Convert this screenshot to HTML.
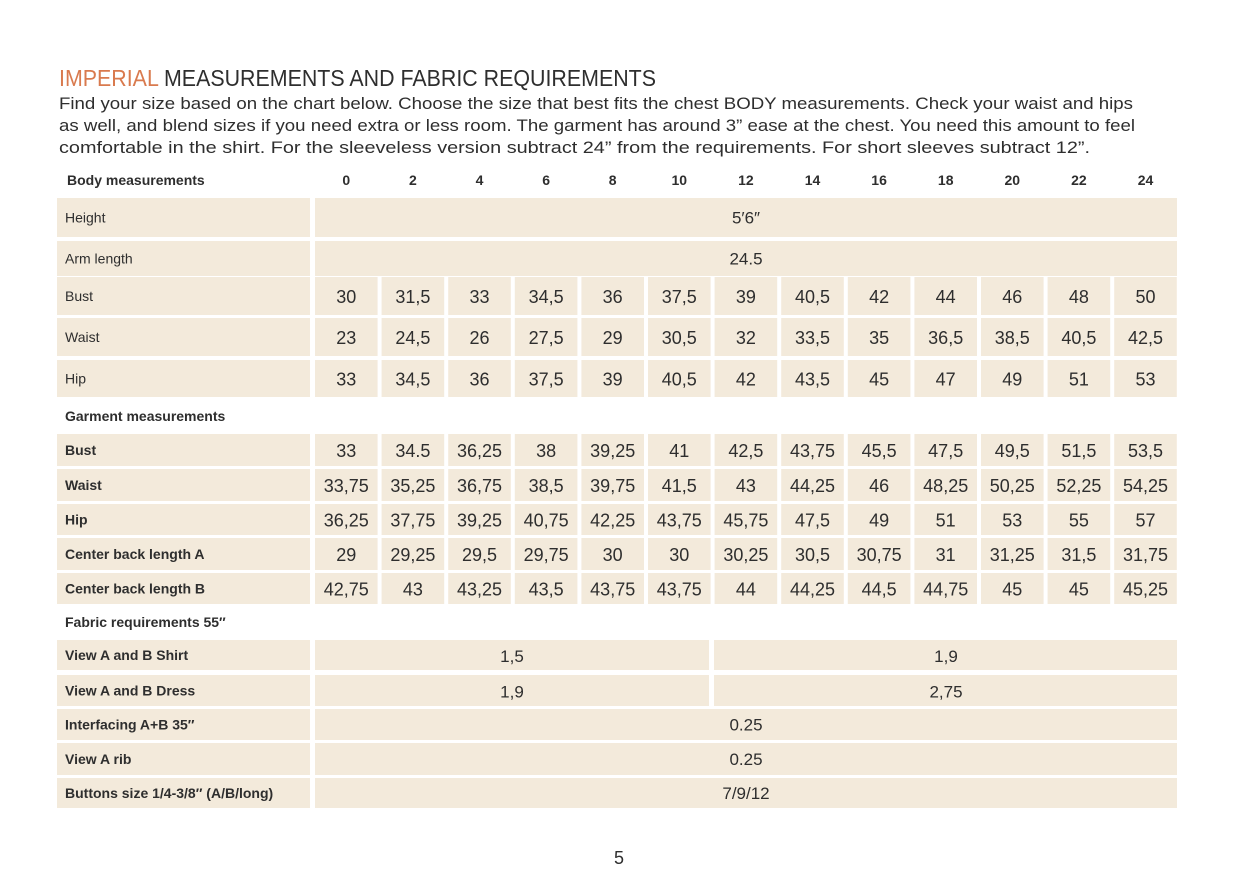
<!DOCTYPE html>
<html><head><meta charset="utf-8">
<style>
html,body{margin:0;padding:0;background:#fff;}
svg{display:block;}
text{font-family:"Liberation Sans",sans-serif;fill:#2e2e2e;}
</style></head>
<body>
<svg id="s" width="1240" height="874" viewBox="0 0 1240 874" xmlns="http://www.w3.org/2000/svg">
<text x="59" y="86" font-size="23" textLength="597" lengthAdjust="spacingAndGlyphs"><tspan fill="#d97a4e">IMPERIAL</tspan> MEASUREMENTS AND FABRIC REQUIREMENTS</text>
<text x="59" y="109" font-size="17" textLength="1074" lengthAdjust="spacingAndGlyphs">Find your size based on the chart below. Choose the size that best fits the chest BODY measurements.  Check your waist and hips</text>
<text x="59" y="131" font-size="17" textLength="1076" lengthAdjust="spacingAndGlyphs">as well, and blend sizes if you need extra or less room. The garment has around 3” ease at the chest. You need this amount to feel</text>
<text x="59" y="153" font-size="17" textLength="1031" lengthAdjust="spacingAndGlyphs">comfortable in the shirt. For the sleeveless version subtract 24” from the requirements. For short sleeves subtract 12”.</text>
<text x="614" y="864" font-size="18" fill="#444">5</text>
</svg>
<script>
var s=document.getElementById('s');var NS='http://www.w3.org/2000/svg';
function R(x,y,w,h){var r=document.createElementNS(NS,'rect');r.setAttribute('x',x);r.setAttribute('y',y);r.setAttribute('width',w);r.setAttribute('height',h);r.setAttribute('fill','#f3eadb');s.appendChild(r);}
function T(x,y,t,sz,anchor,bold,col){var e=document.createElementNS(NS,'text');e.setAttribute('x',x);e.setAttribute('y',y);e.setAttribute('font-size',sz);if(anchor)e.setAttribute('text-anchor',anchor);if(bold)e.setAttribute('font-weight','bold');if(col)e.setAttribute('fill',col);e.textContent=t;s.appendChild(e);}
var X0=315,CW=66.6,G=4;
var sizes=[0,2,4,6,8,10,12,14,16,18,20,22,24];
T(67,185,'Body measurements',14,null,true);
sizes.forEach(function(v,i){T(X0+CW*i+CW/2-2,185,String(v),14,'middle',true);});
function full(y,h,label,val,bold){R(57,y,253,h);R(X0,y,1177-X0,h);T(65,y+h/2+5,label,14,null,bold);T(746,y+h/2+6,val,17,'middle',false,'#444');}
function cells(y,h,label,vals,bold){R(57,y,253,h);vals.forEach(function(v,i){R(X0+CW*i,y,CW-G,h);T(X0+CW*i+(CW-G)/2,y+h/2+7,v,18,'middle',false,'#444');});T(65,y+h/2+5,label,14,null,bold);}
function split(y,h,label,a,b){R(57,y,253,h);R(X0,y,394,h);R(714,y,463,h);T(65,y+h/2+5,label,14,null,true);T(512,y+h/2+7,a,17,'middle',false,'#444');T(946,y+h/2+7,b,17,'middle',false,'#444');}
full(198,39,'Height','5′6″');
full(241,35,'Arm length','24.5');
cells(277,38,'Bust','30 31,5 33 34,5 36 37,5 39 40,5 42 44 46 48 50'.split(' '));
cells(318,38,'Waist','23 24,5 26 27,5 29 30,5 32 33,5 35 36,5 38,5 40,5 42,5'.split(' '));
cells(360,37,'Hip','33 34,5 36 37,5 39 40,5 42 43,5 45 47 49 51 53'.split(' '));
T(65,421,'Garment measurements',14,null,true);
cells(434,32,'Bust','33 34.5 36,25 38 39,25 41 42,5 43,75 45,5 47,5 49,5 51,5 53,5'.split(' '),true);
cells(469,32,'Waist','33,75 35,25 36,75 38,5 39,75 41,5 43 44,25 46 48,25 50,25 52,25 54,25'.split(' '),true);
cells(504,31,'Hip','36,25 37,75 39,25 40,75 42,25 43,75 45,75 47,5 49 51 53 55 57'.split(' '),true);
cells(538,32,'Center back length A','29 29,25 29,5 29,75 30 30 30,25 30,5 30,75 31 31,25 31,5 31,75'.split(' '),true);
cells(573,31,'Center back length B','42,75 43 43,25 43,5 43,75 43,75 44 44,25 44,5 44,75 45 45 45,25'.split(' '),true);
T(65,627,'Fabric requirements 55″',14,null,true);
split(640,30,'View A and B Shirt','1,5','1,9');
split(675,31,'View A and B Dress','1,9','2,75');
full(709,31,'Interfacing  A+B 35″','0.25',true);
full(743,32,'View A rib','0.25',true);
full(778,30,'Buttons size 1/4-3/8″ (A/B/long)','7/9/12',true);
</script>
</body></html>
